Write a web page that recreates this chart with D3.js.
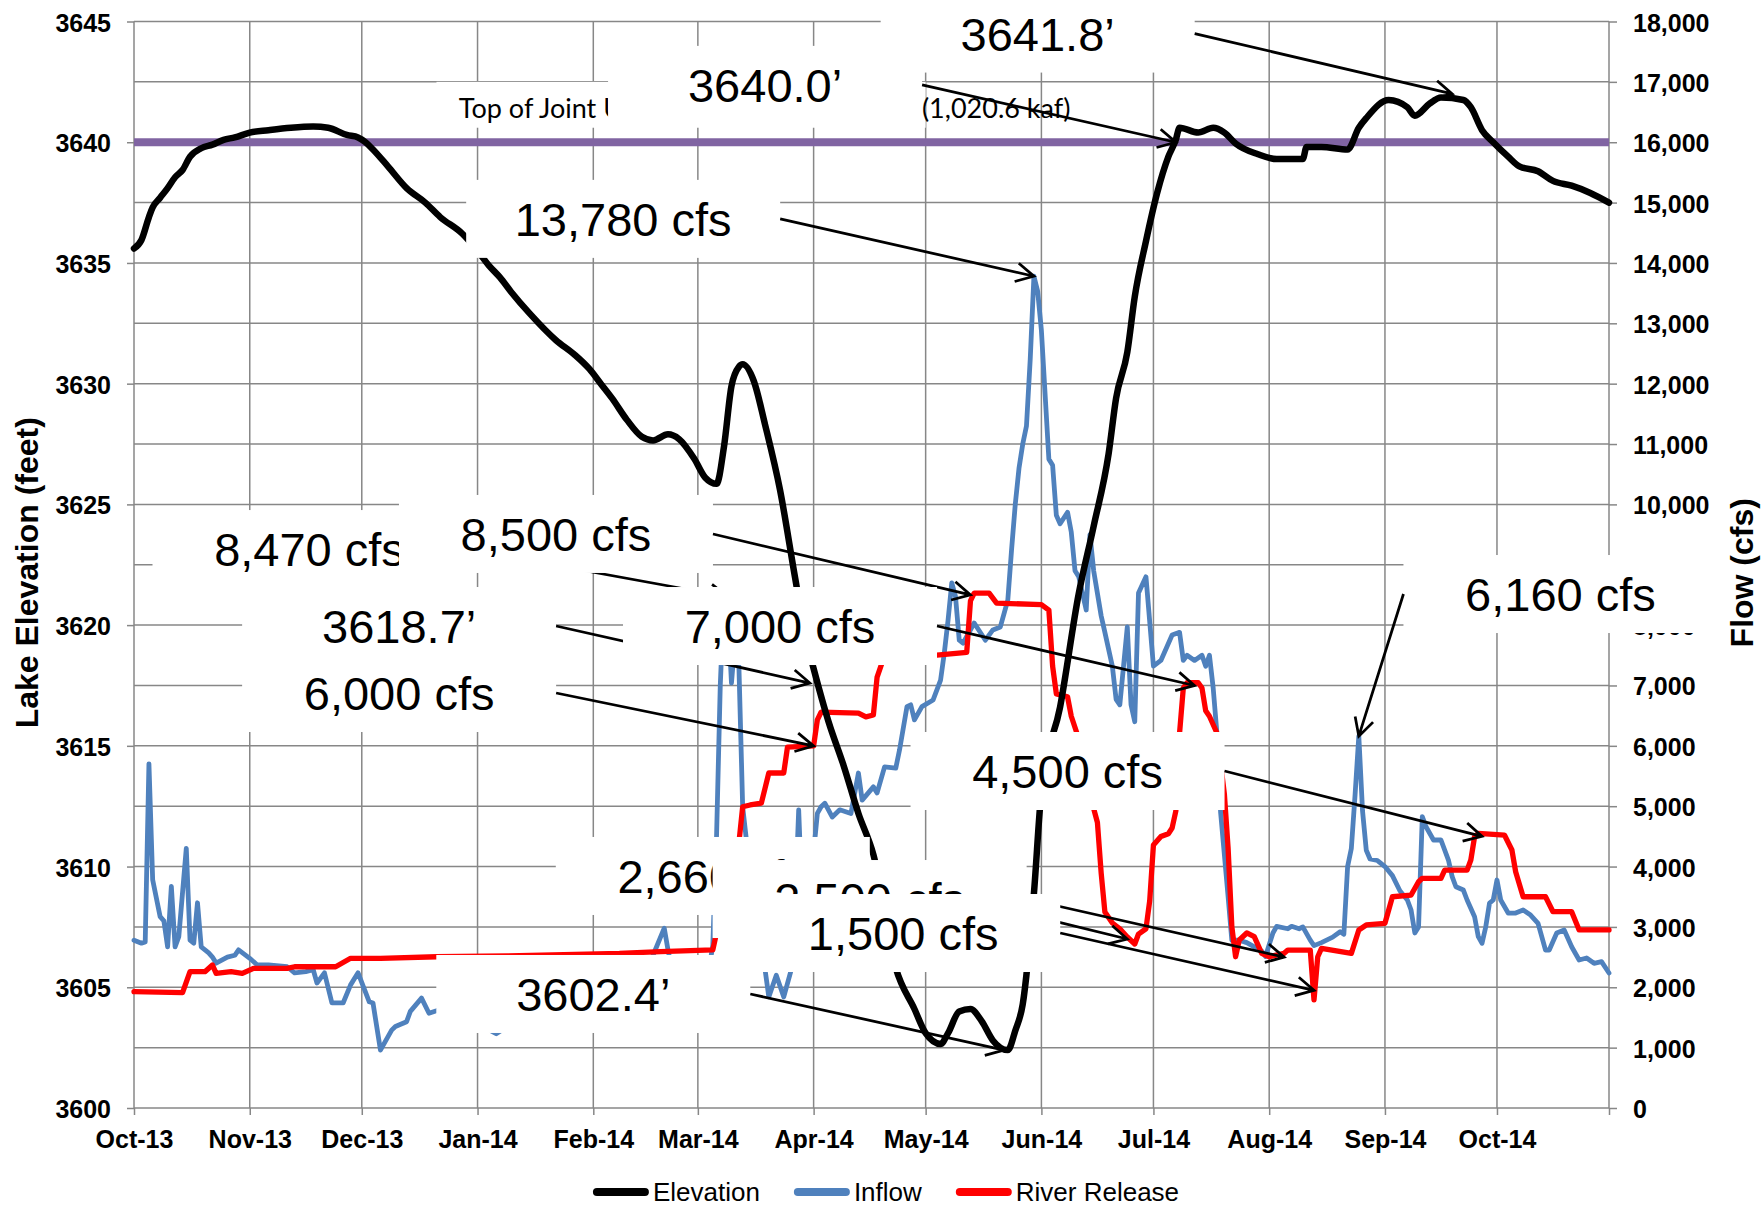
<!DOCTYPE html>
<html>
<head>
<meta charset="utf-8">
<script src="https://cdn.jsdelivr.net/npm/d3@7"></script>
<style>
  body { margin: 0; background: #fff; }
  svg { display: block; }
</style>
</head>
<body>
<svg id="chart"></svg>
<script>
// Lake elevation (feet)
const elevation = [
  ['2013-10-01', 3635.6], ['2013-10-03', 3635.95], ['2013-10-05', 3636.9], ['2013-10-06', 3637.3],
  ['2013-10-08', 3637.7], ['2013-10-10', 3638.1], ['2013-10-12', 3638.55], ['2013-10-14', 3638.85],
  ['2013-10-16', 3639.4], ['2013-10-19', 3639.75], ['2013-10-22', 3639.9], ['2013-10-25', 3640.1],
  ['2013-10-28', 3640.2], ['2013-11-01', 3640.4], ['2013-11-06', 3640.5], ['2013-11-12', 3640.6],
  ['2013-11-18', 3640.65], ['2013-11-22', 3640.6], ['2013-11-27', 3640.3], ['2013-11-30', 3640.2],
  ['2013-12-02', 3640.0], ['2013-12-04', 3639.7], ['2013-12-08', 3639.0], ['2013-12-13', 3638.1],
  ['2013-12-18', 3637.5], ['2013-12-22', 3636.9], ['2013-12-28', 3636.2], ['2014-01-01', 3635.5],
  ['2014-01-04', 3634.9], ['2014-01-07', 3634.4], ['2014-01-10', 3633.8], ['2014-01-15', 3632.9],
  ['2014-01-22', 3631.8], ['2014-01-27', 3631.2], ['2014-01-31', 3630.6], ['2014-02-03', 3630.0],
  ['2014-02-06', 3629.4], ['2014-02-10', 3628.5], ['2014-02-14', 3627.8], ['2014-02-17', 3627.65],
  ['2014-02-21', 3627.9], ['2014-02-24', 3627.7], ['2014-02-28', 3626.9], ['2014-03-03', 3626.1],
  ['2014-03-06', 3625.85], ['2014-03-08', 3627.4], ['2014-03-10', 3629.9], ['2014-03-12', 3630.7],
  ['2014-03-13', 3630.8], ['2014-03-16', 3630.1], ['2014-03-19', 3628.3], ['2014-03-23', 3625.6],
  ['2014-03-27', 3622.0], ['2014-03-30', 3619.4], ['2014-04-01', 3618.2], ['2014-04-05', 3616.0],
  ['2014-04-09', 3614.2], ['2014-04-13', 3612.2], ['2014-04-17', 3610.5], ['2014-04-23', 3605.8],
  ['2014-04-28', 3604.1], ['2014-05-01', 3603.1], ['2014-05-05', 3602.65], ['2014-05-07', 3603.1],
  ['2014-05-10', 3604.0], ['2014-05-13', 3604.1], ['2014-05-16', 3603.6], ['2014-05-19', 3602.8],
  ['2014-05-23', 3602.4], ['2014-05-25', 3603.2], ['2014-05-27', 3604.3], ['2014-05-30', 3608.9],
  ['2014-06-01', 3613.1], ['2014-06-06', 3616.6], ['2014-06-11', 3621.3], ['2014-06-15', 3624.1],
  ['2014-06-19', 3627.1], ['2014-06-21', 3629.4], ['2014-06-24', 3631.3], ['2014-06-26', 3633.6],
  ['2014-06-29', 3635.9], ['2014-07-02', 3637.9], ['2014-07-05', 3639.4], ['2014-07-07', 3640.1],
  ['2014-07-08', 3640.6], ['2014-07-13', 3640.4], ['2014-07-17', 3640.6], ['2014-07-20', 3640.4],
  ['2014-07-23', 3639.95], ['2014-07-29', 3639.5], ['2014-08-03', 3639.3], ['2014-08-10', 3639.3],
  ['2014-08-11', 3639.8], ['2014-08-15', 3639.8], ['2014-08-22', 3639.7], ['2014-08-25', 3640.6],
  ['2014-08-27', 3641.0], ['2014-09-02', 3641.75], ['2014-09-07', 3641.45], ['2014-09-09', 3641.1],
  ['2014-09-13', 3641.6], ['2014-09-16', 3641.85], ['2014-09-22', 3641.75], ['2014-09-24', 3641.45],
  ['2014-09-27', 3640.5], ['2014-09-30', 3640.0], ['2014-10-04', 3639.4], ['2014-10-07', 3639.0],
  ['2014-10-12', 3638.8], ['2014-10-16', 3638.4], ['2014-10-21', 3638.2], ['2014-10-26', 3637.9],
  ['2014-10-31', 3637.5]
]

// Inflow (cfs)
const inflow = [
  ['2013-10-01', 2780], ['2013-10-03', 2730], ['2013-10-04', 2750], ['2013-10-05', 5700],
  ['2013-10-06', 3780], ['2013-10-08', 3170], ['2013-10-09', 3100], ['2013-10-10', 2670],
  ['2013-10-11', 3670], ['2013-10-12', 2670], ['2013-10-13', 2840], ['2013-10-15', 4300],
  ['2013-10-16', 2780], ['2013-10-17', 2730], ['2013-10-18', 3400], ['2013-10-19', 2670],
  ['2013-10-21', 2570], ['2013-10-22', 2500], ['2013-10-23', 2400], ['2013-10-26', 2500],
  ['2013-10-28', 2530], ['2013-10-29', 2620], ['2013-11-01', 2480], ['2013-11-03', 2370],
  ['2013-11-06', 2370], ['2013-11-11', 2340], ['2013-11-13', 2240], ['2013-11-16', 2260],
  ['2013-11-18', 2290], ['2013-11-19', 2070], ['2013-11-21', 2240], ['2013-11-23', 1740],
  ['2013-11-26', 1740], ['2013-11-28', 2040], ['2013-11-30', 2240], ['2013-12-03', 1760],
  ['2013-12-04', 1740], ['2013-12-06', 960], ['2013-12-09', 1290], ['2013-12-10', 1350],
  ['2013-12-13', 1430], ['2013-12-14', 1600], ['2013-12-17', 1820], ['2013-12-19', 1570],
  ['2013-12-21', 1610], ['2013-12-25', 1700], ['2013-12-28', 1500], ['2014-01-01', 1400],
  ['2014-01-04', 1300], ['2014-01-06', 1230], ['2014-01-09', 1350], ['2014-01-14', 1500],
  ['2014-01-19', 1450], ['2014-01-24', 1600], ['2014-01-29', 1500], ['2014-02-03', 1400],
  ['2014-02-07', 1320], ['2014-02-11', 1600], ['2014-02-14', 1900], ['2014-02-17', 2530],
  ['2014-02-20', 2980], ['2014-02-21', 2620], ['2014-02-23', 2000], ['2014-02-27', 1800],
  ['2014-03-02', 2000], ['2014-03-04', 2300], ['2014-03-05', 2700], ['2014-03-06', 4490],
  ['2014-03-07', 7000], ['2014-03-08', 8470], ['2014-03-09', 8300], ['2014-03-10', 7040],
  ['2014-03-11', 7800], ['2014-03-12', 7300], ['2014-03-13', 4990], ['2014-03-14', 4440],
  ['2014-03-16', 3000], ['2014-03-18', 2400], ['2014-03-19', 2290], ['2014-03-20', 1840],
  ['2014-03-22', 2200], ['2014-03-24', 1840], ['2014-03-26', 2290], ['2014-03-27', 3300],
  ['2014-03-28', 4940], ['2014-03-29', 3300], ['2014-03-31', 3600], ['2014-04-02', 4880],
  ['2014-04-03', 4990], ['2014-04-04', 5050], ['2014-04-06', 4820], ['2014-04-08', 4940],
  ['2014-04-11', 4880], ['2014-04-13', 5550], ['2014-04-14', 5100], ['2014-04-17', 5320],
  ['2014-04-18', 5220], ['2014-04-20', 5650], ['2014-04-23', 5630], ['2014-04-24', 5930],
  ['2014-04-26', 6650], ['2014-04-27', 6680], ['2014-04-28', 6430], ['2014-04-30', 6650],
  ['2014-05-03', 6760], ['2014-05-05', 7090], ['2014-05-06', 7540], ['2014-05-07', 8080],
  ['2014-05-08', 8700], ['2014-05-09', 8470], ['2014-05-10', 7750], ['2014-05-11', 7700],
  ['2014-05-14', 8035], ['2014-05-17', 7750], ['2014-05-19', 7920], ['2014-05-21', 7970],
  ['2014-05-23', 8415], ['2014-05-24', 9240], ['2014-05-25', 10000], ['2014-05-26', 10600],
  ['2014-05-27', 11000], ['2014-05-28', 11300], ['2014-05-29', 12400], ['2014-05-30', 13780],
  ['2014-05-31', 13530], ['2014-06-01', 12880], ['2014-06-03', 10750], ['2014-06-04', 10650],
  ['2014-06-05', 9820], ['2014-06-06', 9680], ['2014-06-08', 9870], ['2014-06-09', 9540],
  ['2014-06-10', 8900], ['2014-06-11', 8800], ['2014-06-13', 8250], ['2014-06-14', 9500],
  ['2014-06-15', 8900], ['2014-06-17', 8155], ['2014-06-18', 7880], ['2014-06-20', 7320],
  ['2014-06-21', 6770], ['2014-06-22', 6680], ['2014-06-24', 7970], ['2014-06-25', 6680],
  ['2014-06-26', 6400], ['2014-06-27', 8530], ['2014-06-29', 8800], ['2014-07-01', 7320],
  ['2014-07-03', 7415], ['2014-07-06', 7835], ['2014-07-08', 7880], ['2014-07-09', 7415],
  ['2014-07-10', 7500], ['2014-07-12', 7415], ['2014-07-14', 7500], ['2014-07-15', 7320],
  ['2014-07-16', 7500], ['2014-07-17', 6960], ['2014-07-18', 6210], ['2014-07-19', 4890],
  ['2014-07-21', 3500], ['2014-07-22', 2780], ['2014-07-24', 2780], ['2014-07-26', 2740],
  ['2014-07-30', 2600], ['2014-07-31', 2510], ['2014-08-02', 2900], ['2014-08-03', 3010],
  ['2014-08-06', 2970], ['2014-08-07', 3010], ['2014-08-09', 2970], ['2014-08-10', 3000],
  ['2014-08-12', 2780], ['2014-08-13', 2690], ['2014-08-15', 2740], ['2014-08-18', 2830],
  ['2014-08-20', 2920], ['2014-08-21', 2880], ['2014-08-22', 4000], ['2014-08-23', 4300],
  ['2014-08-24', 5190], ['2014-08-25', 6160], ['2014-08-26', 4920], ['2014-08-27', 4270],
  ['2014-08-28', 4125], ['2014-08-30', 4100], ['2014-09-01', 4000], ['2014-09-03', 3850],
  ['2014-09-05', 3600], ['2014-09-07', 3446], ['2014-09-08', 3280], ['2014-09-09', 2900],
  ['2014-09-10', 3000], ['2014-09-11', 4826], ['2014-09-12', 4660], ['2014-09-14', 4440],
  ['2014-09-16', 4440], ['2014-09-18', 4108], ['2014-09-19', 3832], ['2014-09-20', 3666],
  ['2014-09-22', 3611], ['2014-09-23', 3446], ['2014-09-25', 3170], ['2014-09-26', 2838],
  ['2014-09-27', 2728], ['2014-09-28', 3004], ['2014-09-29', 3396], ['2014-09-30', 3446],
  ['2014-10-01', 3777], ['2014-10-02', 3446], ['2014-10-04', 3230], ['2014-10-06', 3230],
  ['2014-10-08', 3280], ['2014-10-10', 3197], ['2014-10-12', 3060], ['2014-10-14', 2617],
  ['2014-10-15', 2617], ['2014-10-17', 2900], ['2014-10-19', 2950], ['2014-10-21', 2672],
  ['2014-10-23', 2452], ['2014-10-25', 2485], ['2014-10-27', 2397], ['2014-10-29', 2424],
  ['2014-10-31', 2236]
]

// River release (cfs)
const release = [
  ['2013-10-01', 1927], ['2013-10-14', 1910], ['2013-10-16', 2258], ['2013-10-20', 2258],
  ['2013-10-22', 2369], ['2013-10-23', 2230], ['2013-10-27', 2258], ['2013-10-30', 2230],
  ['2013-11-02', 2314], ['2013-11-11', 2314], ['2013-11-13', 2340], ['2013-11-24', 2340],
  ['2013-11-28', 2480], ['2013-12-06', 2480], ['2013-12-21', 2506], ['2014-01-09', 2520],
  ['2014-02-08', 2560], ['2014-02-19', 2590], ['2014-03-05', 2620], ['2014-03-06', 2900],
  ['2014-03-08', 3500], ['2014-03-10', 4000], ['2014-03-12', 4400], ['2014-03-13', 4990],
  ['2014-03-15', 5020], ['2014-03-18', 5050], ['2014-03-20', 5550], ['2014-03-24', 5550],
  ['2014-03-25', 5980], ['2014-04-01', 6000], ['2014-04-02', 6430], ['2014-04-03', 6560],
  ['2014-04-13', 6543], ['2014-04-15', 6480], ['2014-04-17', 6510], ['2014-04-18', 7140],
  ['2014-04-20', 7500], ['2014-05-04', 7504], ['2014-05-12', 7550], ['2014-05-13', 8400],
  ['2014-05-14', 8530], ['2014-05-18', 8530], ['2014-05-20', 8365], ['2014-06-01', 8340],
  ['2014-06-03', 8250], ['2014-06-04', 7320], ['2014-06-05', 6860], ['2014-06-08', 6814],
  ['2014-06-09', 6490], ['2014-06-11', 6117], ['2014-06-13', 5600], ['2014-06-15', 4960],
  ['2014-06-16', 4730], ['2014-06-17', 3895], ['2014-06-18', 3247], ['2014-06-20', 3065],
  ['2014-06-22', 2970], ['2014-06-24', 2833], ['2014-06-26', 2717], ['2014-06-27', 2882],
  ['2014-06-29', 2970], ['2014-06-30', 3432], ['2014-07-01', 4357], ['2014-07-03', 4497],
  ['2014-07-05', 4544], ['2014-07-06', 4638], ['2014-07-07', 4920], ['2014-07-08', 6212],
  ['2014-07-09', 6957], ['2014-07-10', 7045], ['2014-07-13', 7045], ['2014-07-14', 6957],
  ['2014-07-15', 6580], ['2014-07-16', 6490], ['2014-07-18', 6212], ['2014-07-20', 5200],
  ['2014-07-21', 4300], ['2014-07-22', 3000], ['2014-07-23', 2506], ['2014-07-24', 2783],
  ['2014-07-26', 2900], ['2014-07-28', 2838], ['2014-07-30', 2562], ['2014-08-01', 2506],
  ['2014-08-05', 2562], ['2014-08-06', 2617], ['2014-08-12', 2617], ['2014-08-13', 1790],
  ['2014-08-14', 2506], ['2014-08-15', 2645], ['2014-08-23', 2562], ['2014-08-25', 2950],
  ['2014-08-27', 3032], ['2014-09-01', 3060], ['2014-09-03', 3500], ['2014-09-08', 3528],
  ['2014-09-10', 3749], ['2014-09-11', 3805], ['2014-09-16', 3805], ['2014-09-17', 3942],
  ['2014-09-23', 3942], ['2014-09-24', 4108], ['2014-09-25', 4494], ['2014-09-26', 4550],
  ['2014-10-03', 4522], ['2014-10-05', 4274], ['2014-10-06', 3914], ['2014-10-08', 3500],
  ['2014-10-14', 3500], ['2014-10-16', 3252], ['2014-10-21', 3252], ['2014-10-23', 2950],
  ['2014-10-31', 2950]
]

const jointUseTop = 3640
const elevTicks = d3.range(3600, 3646, 5)
const flowTicks = d3.range(0, 18001, 1000)
const monthTicks = ['2013-10-01', '2013-11-01', '2013-12-01', '2014-01-01', '2014-02-01', '2014-03-01',
  '2014-04-01', '2014-05-01', '2014-06-01', '2014-07-01', '2014-08-01', '2014-09-01', '2014-10-01']
const seriesNames = ['Elevation', 'Inflow', 'River Release']
const seriesColors = ['#000000', '#4f81bd', '#ff0000']

// callouts: label centre on (date, cfs), arrow tip on (date, value of the given axis)
const callouts = [
  { text: '3640.0’', at: ['2014-03-19', 16950], to: ['2014-07-07', 3640], axis: 'elev' },
  { text: '3641.8’', at: ['2014-05-31', 17800], to: ['2014-09-19', 3642], axis: 'elev' },
  { text: '13,780 cfs', at: ['2014-02-09', 14730], to: ['2014-05-30', 13780] },
  { text: '8,470 cfs', at: ['2013-11-17', 9260], to: ['2014-03-09', 8470] },
  { text: '8,500 cfs', at: ['2014-01-22', 9510], to: ['2014-05-13', 8500] },
  { text: '3618.7’', at: ['2013-12-11', 7985], to: ['2014-03-31', 3617.6], axis: 'elev' },
  { text: '6,000 cfs', at: ['2013-12-11', 6875], to: ['2014-04-01', 6000] },
  { text: '7,000 cfs', at: ['2014-03-23', 7985], to: ['2014-07-12', 7000] },
  { text: '4,500 cfs', at: ['2014-06-08', 5583], to: ['2014-09-27', 4500] },
  { text: '6,160 cfs', at: ['2014-10-18', 8515], to: ['2014-08-25', 6160], side: 'left' },
  { text: '3602.4’', at: ['2014-02-01', 1889], to: ['2014-05-22', 3602.4], axis: 'elev' },
  { text: '2,660 cfs', at: ['2014-03-05', 3844], to: ['2014-06-24', 2800] },
  { text: '2,500 cfs', at: ['2014-04-16', 3462], to: ['2014-08-05', 2500] },
  { text: '1,500 cfs', at: ['2014-04-25', 2899], to: ['2014-08-13', 1950] }
]

const parse = d3.timeParse('%Y-%m-%d')
const W = 1762
const H = 1207
const plot = { left: 134, right: 1609, top: 21.5, bottom: 1108 }
const FONT = "'Liberation Sans', Arial, Helvetica, sans-serif"
const GRID = '#878787'

const start = parse('2013-10-01')
const end = parse('2014-10-31')
const x = d3.scaleTime().domain([start, end]).range([plot.left, plot.right])
const yElev = d3.scaleLinear().domain([3600, 3645]).range([plot.bottom, plot.top])
const yFlow = d3.scaleLinear().domain([0, 18000]).range([plot.bottom, plot.top])

const svg = d3.select('#chart').attr('width', W).attr('height', H)
svg.append('rect').attr('width', W).attr('height', H).attr('fill', '#fff')

// gridlines
const grid = svg.append('g').attr('stroke', GRID).attr('stroke-width', 1.5)
grid.selectAll('line.h').data(flowTicks).join('line')
  .attr('x1', plot.left).attr('x2', plot.right)
  .attr('y1', d => yFlow(d)).attr('y2', d => yFlow(d))
const vLines = monthTicks.map(parse).concat([end])
grid.selectAll('line.v').data(vLines).join('line')
  .attr('x1', d => x(d)).attr('x2', d => x(d))
  .attr('y1', plot.top).attr('y2', plot.bottom)

// axes
const styleAxis = g => {
  g.attr('font-family', FONT).attr('font-size', 25).attr('font-weight', 'bold')
  g.select('.domain').remove()
  g.selectAll('.tick line').attr('stroke', GRID).attr('stroke-width', 1.5)
  g.selectAll('.tick text').attr('fill', '#000')
}

svg.append('g').attr('transform', `translate(${plot.left},0)`)
  .call(d3.axisLeft(yElev).tickValues(elevTicks).tickFormat(d3.format('d'))
    .tickSize(7).tickPadding(16).tickSizeOuter(0))
  .call(styleAxis)
  .call(g => g.selectAll('.tick text').attr('dy', '0.38em'))

svg.append('g').attr('transform', `translate(${plot.right},0)`)
  .call(d3.axisRight(yFlow).tickValues(flowTicks).tickFormat(d3.format(','))
    .tickSize(8).tickPadding(16).tickSizeOuter(0))
  .call(styleAxis)
  .call(g => g.selectAll('.tick text').attr('dy', '0.38em'))

const monthFmt = d3.timeFormat('%b-%y')
svg.append('g').attr('transform', `translate(0,${plot.bottom})`)
  .call(d3.axisBottom(x).tickValues(vLines)
    .tickFormat(d => (+d === +end ? '' : monthFmt(d)))
    .tickSize(7).tickPadding(15).tickSizeOuter(0))
  .call(styleAxis)

// axis titles
svg.append('text')
  .attr('transform', `translate(38,${(plot.top + plot.bottom) / 2 + 8}) rotate(-90)`)
  .attr('text-anchor', 'middle').attr('font-family', FONT).attr('font-size', 32)
  .attr('font-weight', 'bold').text('Lake Elevation (feet)')
svg.append('text')
  .attr('transform', `translate(1753,${(plot.top + plot.bottom) / 2 + 8}) rotate(-90)`)
  .attr('text-anchor', 'middle').attr('font-family', FONT).attr('font-size', 32)
  .attr('font-weight', 'bold').text('Flow (cfs)')

// top of joint use line
svg.append('line')
  .attr('x1', plot.left).attr('x2', plot.right)
  .attr('y1', yElev(jointUseTop)).attr('y2', yElev(jointUseTop))
  .attr('stroke', '#8064a2').attr('stroke-width', 8)

// series
const toPoints = rows => rows.map(([d, v]) => ({ date: parse(d), value: v }))
const series = [
  { rows: inflow, y: yFlow, color: seriesColors[1], width: 4.8, curve: d3.curveLinear },
  { rows: release, y: yFlow, color: seriesColors[2], width: 5.3, curve: d3.curveLinear },
  { rows: elevation, y: yElev, color: seriesColors[0], width: 6.5, curve: d3.curveMonotoneX }
]
series.forEach(s => {
  const line = d3.line().x(d => x(d.date)).y(d => s.y(d.value)).curve(s.curve)
  svg.append('path')
    .datum(toPoints(s.rows))
    .attr('d', line)
    .attr('fill', 'none')
    .attr('stroke', s.color)
    .attr('stroke-width', s.width)
    .attr('stroke-linejoin', 'round')
    .attr('stroke-linecap', 'round')
})

// "Top of Joint Use" label
const LABEL_FONT = 'Lato, Carlito, Calibri, sans-serif'
const jointLabel = svg.append('g')
jointLabel.append('rect')
  .attr('x', x(parse('2013-12-21'))).attr('width', x(parse('2014-05-01')) - x(parse('2013-12-21')))
  .attr('y', yElev(3642.5)).attr('height', yElev(3640.6) - yElev(3642.5))
  .attr('fill', '#fff')
jointLabel.append('text')
  .attr('x', x(parse('2013-12-27'))).attr('y', yElev(3641))
  .attr('font-family', LABEL_FONT).attr('font-size', 27)
  .text('Top of Joint Use')
jointLabel.append('text')
  .attr('x', x(parse('2014-04-30'))).attr('y', yElev(3641))
  .attr('font-family', LABEL_FONT).attr('font-size', 27)
  .text('(1,020.6 kaf)')

// callout boxes with arrows
const BOX_W = 314
const BOX_H = 78
const HEAD = 20
const HEAD_ANGLE = 28 * Math.PI / 180

callouts.forEach(c => {
  const cx = x(parse(c.at[0]))
  const cy = yFlow(c.at[1])
  const g = svg.append('g')
  g.append('rect')
    .attr('x', cx - BOX_W / 2).attr('y', cy - BOX_H / 2)
    .attr('width', BOX_W).attr('height', BOX_H)
    .attr('fill', '#fff')
  g.append('text')
    .attr('x', cx).attr('y', cy + 17)
    .attr('text-anchor', 'middle')
    .attr('font-family', FONT).attr('font-size', 47)
    .text(c.text)

  const x0 = c.side === 'left' ? cx - BOX_W / 2 : cx + BOX_W / 2
  const y0 = cy
  const x1 = x(parse(c.to[0]))
  const y1 = (c.axis === 'elev' ? yElev : yFlow)(c.to[1])
  const a = Math.atan2(y1 - y0, x1 - x0)
  const head = [a - HEAD_ANGLE, a + HEAD_ANGLE]
    .map(t => [x1 - HEAD * Math.cos(t), y1 - HEAD * Math.sin(t)])
  g.append('path')
    .attr('d', `M${x0},${y0}L${x1},${y1}M${head[0]}L${x1},${y1}L${head[1]}`)
    .attr('fill', 'none')
    .attr('stroke', '#000')
    .attr('stroke-width', 2.75)
})

// legend
const legend = svg.append('g').attr('font-family', FONT).attr('font-size', 26)
let lx = 0
seriesNames.forEach((name, i) => {
  legend.append('line')
    .attr('x1', lx + 4).attr('x2', lx + 52)
    .attr('y1', 1192).attr('y2', 1192)
    .attr('stroke', seriesColors[i]).attr('stroke-width', 8)
    .attr('stroke-linecap', 'round')
  const t = legend.append('text')
    .attr('x', lx + 60).attr('y', 1200.5)
    .text(name)
  lx += 60 + t.node().getComputedTextLength() + 34
})
const legendWidth = lx - 34
legend.attr('transform', `translate(${886 - legendWidth / 2},0)`)
</script>
</body>
</html>
